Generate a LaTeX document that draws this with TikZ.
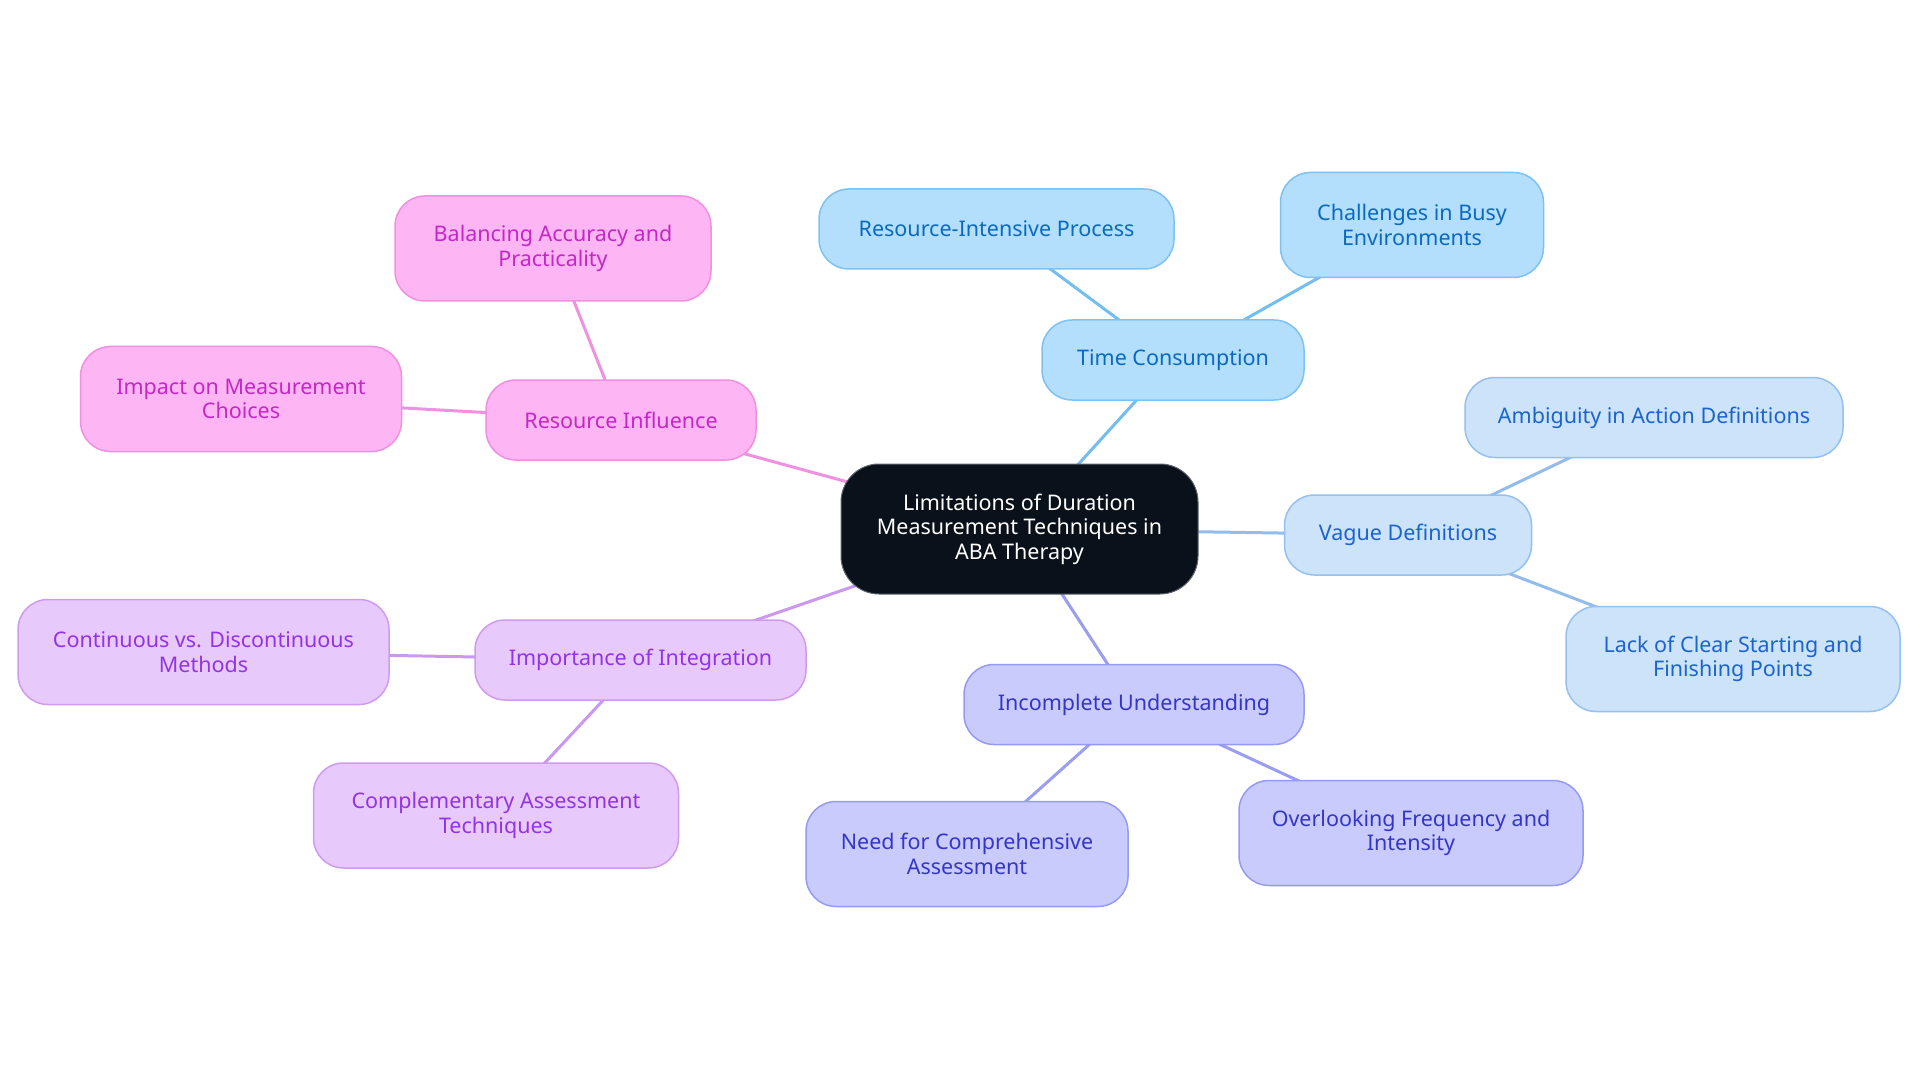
\documentclass[tikz,border=0pt]{standalone}
\usepackage{fontspec}
\setmainfont{Noto Sans}
\usetikzlibrary{backgrounds}
\definecolor{cfill}{HTML}{0B111B}
\definecolor{cborder}{HTML}{5F6670}
\definecolor{tcfill}{HTML}{B3DFFD}
\definecolor{tcdraw}{HTML}{7CC2F3}
\definecolor{tctext}{HTML}{0A6AC0}
\definecolor{tcedge}{HTML}{74BDEF}
\definecolor{vdfill}{HTML}{CCE3FA}
\definecolor{vddraw}{HTML}{95C0F0}
\definecolor{vdtext}{HTML}{1B64CF}
\definecolor{vdedge}{HTML}{92BCEC}
\definecolor{iufill}{HTML}{C8CBFC}
\definecolor{iudraw}{HTML}{959BF3}
\definecolor{iutext}{HTML}{3535C8}
\definecolor{iuedge}{HTML}{999EF0}
\definecolor{iifill}{HTML}{E8C9FC}
\definecolor{iidraw}{HTML}{CF9AF0}
\definecolor{iitext}{HTML}{9333E6}
\definecolor{iiedge}{HTML}{CB98F0}
\definecolor{rifill}{HTML}{FDB6F3}
\definecolor{ridraw}{HTML}{F090E0}
\definecolor{ritext}{HTML}{C427C8}
\definecolor{riedge}{HTML}{F090E0}
\tikzset{
  box/.style={rounded corners=30pt, line width=1.5pt, align=center, inner sep=0pt,
    font=\fontsize{21.5}{24.5}\selectfont},
  one/.style={minimum height=80pt},
  two/.style={minimum height=105pt},
  tc/.style={box, fill=tcfill, draw=tcdraw, text=tctext},
  vd/.style={box, fill=vdfill, draw=vddraw, text=vdtext},
  iu/.style={box, fill=iufill, draw=iudraw, text=iutext},
  ii/.style={box, fill=iifill, draw=iidraw, text=iitext},
  ri/.style={box, fill=rifill, draw=ridraw, text=ritext},
  tce/.style={draw=tcedge, line width=3pt},
  vde/.style={draw=vdedge, line width=3pt},
  iue/.style={draw=iuedge, line width=3pt},
  iie/.style={draw=iiedge, line width=3pt},
  rie/.style={draw=riedge, line width=3pt},
}
\begin{document}
\begin{tikzpicture}[x=1pt, y=-1pt]
\useasboundingbox (0,0) rectangle (1920,1083);
\node[box, rounded corners=38pt, fill=cfill, draw=cborder, line width=1pt, text=white,
  minimum width=357pt, minimum height=130pt] (c) at (1019.5,529)
  {Limitations of Duration\\Measurement Techniques in\\ABA Therapy};
% Time Consumption
\node[tc, one, minimum width=262pt] (tc) at (1173,360) {Time Consumption};
\node[tc, one, minimum width=355pt] (rip) at (996.5,229) {Resource-Intensive Process};
\node[tc, two, minimum width=263pt] (cbe) at (1412,225) {Challenges in Busy\\Environments};
% Vague Definitions
\node[vd, one, minimum width=247pt] (vd) at (1408,535) {Vague Definitions};
\node[vd, one, minimum width=378pt] (aad) at (1654,417.5) {Ambiguity in Action Definitions};
\node[vd, two, minimum width=334pt] (lcs) at (1733,659) {Lack of Clear Starting and\\Finishing Points};
% Incomplete Understanding
\node[iu, one, minimum width=340pt] (iu) at (1134,704.5) {Incomplete Understanding};
\node[iu, two, minimum width=322pt] (nca) at (967,854) {Need for Comprehensive\\Assessment};
\node[iu, two, minimum width=344pt] (ofi) at (1411,833) {Overlooking Frequency and\\Intensity};
% Importance of Integration
\node[ii, one, minimum width=331pt] (ii) at (640.5,660) {Importance of Integration};
\node[ii, two, minimum width=371pt] (cdm) at (203.5,652) {Continuous vs. Discontinuous\\Methods};
\node[ii, two, minimum width=365pt] (cat) at (496,815.5) {Complementary Assessment\\Techniques};
% Resource Influence
\node[ri, one, minimum width=270pt] (ri) at (621,420) {Resource Influence};
\node[ri, two, minimum width=316pt] (bap) at (553,248.5) {Balancing Accuracy and\\Practicality};
\node[ri, two, minimum width=321pt] (imc) at (241,399) {Impact on Measurement\\Choices};
\begin{scope}[on background layer]
\fill[white] (0,0) rectangle (1920,1083);
\draw[tce] (c.center) -- (tc.center);
\draw[tce] (tc.center) -- (rip.center);
\draw[tce] (tc.center) -- (cbe.center);
\draw[vde] (c.center) -- (vd.center);
\draw[vde] (vd.center) -- (aad.center);
\draw[vde] (vd.center) -- (lcs.center);
\draw[iue] (c.center) -- (iu.center);
\draw[iue] (iu.center) -- (nca.center);
\draw[iue] (iu.center) -- (ofi.center);
\draw[iie] (c.center) -- (ii.center);
\draw[iie] (ii.center) -- (cdm.center);
\draw[iie] (ii.center) -- (cat.center);
\draw[rie] (c.center) -- (ri.center);
\draw[rie] (ri.center) -- (bap.center);
\draw[rie] (ri.center) -- (imc.center);
\end{scope}
\end{tikzpicture}
\end{document}
